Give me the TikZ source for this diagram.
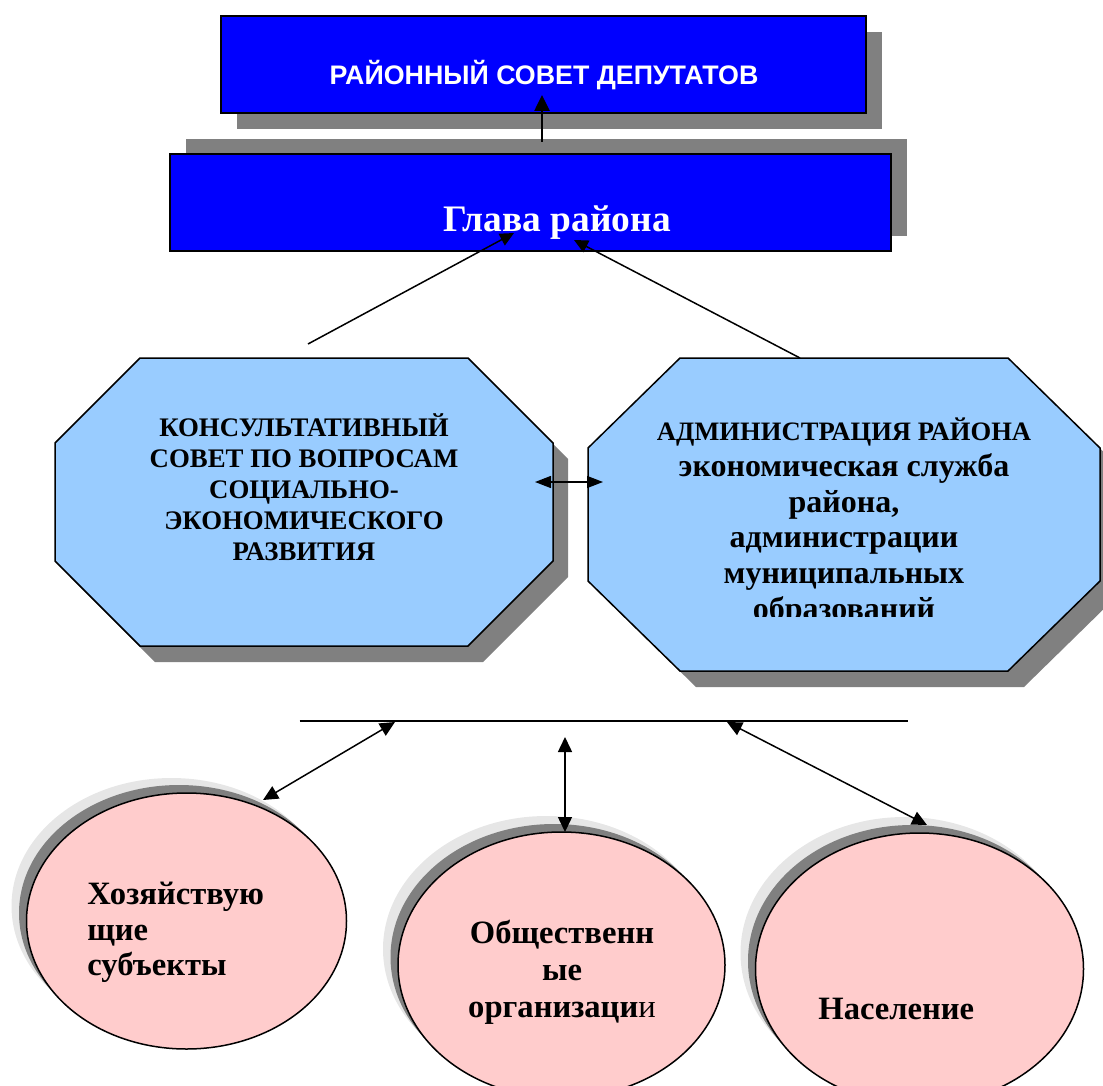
\documentclass[tikz,border=0pt]{standalone}
\usepackage{fontspec}
\setmainfont{Liberation Serif}
\newfontfamily\sansfnt{Liberation Sans}
\usetikzlibrary{shapes.geometric,arrows.meta}
\definecolor{boxblue}{HTML}{0000FF}
\definecolor{octblue}{HTML}{99CCFF}
\definecolor{ovalpink}{HTML}{FFCCCC}
\definecolor{shadowgray}{HTML}{808080}
\definecolor{halogray}{HTML}{E6E6E6}
\newcommand\octpath[6]{(#1+#5,#2) -- (#3-#5,#2) -- (#3,#2+#6) -- (#3,#4-#6) -- (#3-#5,#4) -- (#1+#5,#4) -- (#1,#4-#6) -- (#1,#2+#6) -- cycle}
\tikzset{
  bluebox/.style={draw=black, line width=1pt, fill=boxblue, inner sep=0pt},
  octo/.style={draw=black, line width=0.75pt, fill=octblue},
  pinkoval/.style={ellipse, draw=black, line width=0.75pt, fill=ovalpink, inner sep=0pt},
  txt/.style={inner sep=0pt, text=black},
  conn/.style={line width=0.75pt, -{Triangle[length=7pt,width=6.5pt]}},
  biconn/.style={line width=0.75pt, {Triangle[length=7.5pt,width=7pt]}-{Triangle[length=7.5pt,width=7pt]}},
  sidebi/.style={line width=0.7pt, {Triangle[length=8pt,width=6pt]}-{Triangle[length=8pt,width=6pt]}},
}
\begin{document}
\begin{tikzpicture}[x=0.5pt,y=-0.5pt]
\useasboundingbox (0,0) rectangle (1103,1086);
% ---- top box
\fill[shadowgray] (237,32) rectangle (882,129);
\node[bluebox, minimum width=322.5pt, minimum height=48.5pt] (rsd) at (543.5,64.5) {};
\node[txt, anchor=base, text=white, font=\sansfnt\bfseries\fontsize{13.4}{16}\selectfont] (rsdt) at (544,85) {РАЙОННЫЙ СОВЕТ ДЕПУТАТОВ};
% ---- head of district
\fill[shadowgray] (186,139) rectangle (906.5,236);
\node[bluebox, minimum width=360.25pt, minimum height=48.5pt] (glava) at (530.25,202.5) {};
\node[txt, anchor=base, text=white, font=\bfseries\fontsize{18.7}{22}\selectfont] (glavat) at (557,231) {Глава района};
\coordinate (g1) at (542,142);
\coordinate (r1) at (542,95);
\draw[line width=1.3pt, -{Triangle[length=8pt,width=7.5pt]}] (g1) -- (r1);
% ---- octagons
\fill[shadowgray] \octpath{70}{374}{568}{662}{85}{85};
\draw[octo] \octpath{55}{358}{553}{646}{85}{85};
\fill[shadowgray] \octpath{604}{374}{1116}{687}{92}{90};
\draw[octo] \octpath{588}{358}{1100}{671}{92}{90};
\node[txt, align=center, font=\bfseries\fontsize{13.4}{15.5}\selectfont] (kons) at (304,487)
  {КОНСУЛЬТАТИВНЫЙ\\СОВЕТ ПО ВОПРОСАМ\\СОЦИАЛЬНО-\\ЭКОНОМИЧЕСКОГО\\РАЗВИТИЯ};
\begin{scope}
\clip (580,350) rectangle (1110,616);
\node[txt, align=center, font=\bfseries\fontsize{16}{17.9}\selectfont] (adm) at (844,522)
  {{\fontsize{13.3}{17.9}\selectfont АДМИНИСТРАЦИЯ РАЙОНА}\\экономическая служба\\района,\\администрации\\муниципальных\\образований};
\end{scope}
\coordinate (k1) at (308,344);
\coordinate (gk) at (514,233);
\coordinate (a1) at (800,358);
\coordinate (ga) at (574,240);
\draw[conn] (k1) -- (gk);
\draw[conn] (a1) -- (ga);
\coordinate (kr) at (535,482);
\coordinate (al) at (603,482);
\draw[sidebi] (kr) -- (al);
% ---- ellipses
\fill[halogray] (171.5,906) ellipse [x radius=160, y radius=128];
\fill[shadowgray] (179,913) ellipse [x radius=160, y radius=128];
\node[pinkoval, minimum width=160pt, minimum height=128pt] (hoz) at (186.5,921) {};
\fill[halogray] (546.5,949) ellipse [x radius=163.5, y radius=133];
\fill[shadowgray] (554,957) ellipse [x radius=163.5, y radius=133];
\node[pinkoval, minimum width=163.5pt, minimum height=133pt] (obs) at (561.5,965) {};
\fill[halogray] (904.5,953) ellipse [x radius=164, y radius=136];
\fill[shadowgray] (912,961) ellipse [x radius=164, y radius=136];
\node[pinkoval, minimum width=164pt, minimum height=136pt] (nas) at (919.5,969) {};
\node[txt, anchor=west, align=left, font=\bfseries\fontsize{16.3}{17.75}\selectfont] (hozt) at (87,932.5) {Хозяйствую\\щие\\субъекты};
\node[txt, align=center, font=\bfseries\fontsize{16.3}{18.5}\selectfont] (obst) at (562,972) {Общественн\\ые\\организаци{\mdseries и}};
\node[txt, anchor=west, font=\bfseries\fontsize{16.3}{18.5}\selectfont] (nast) at (818,1009) {Население};
% ---- bus line and arrows
\coordinate (busL) at (299.5,720.5);
\coordinate (busR) at (908,720.5);
\draw[line width=1pt] (busL) -- (busR);
\coordinate (b1) at (395,722);
\coordinate (e1) at (263,800);
\coordinate (b2) at (565,737);
\coordinate (e2) at (565,832);
\coordinate (b3) at (727,722);
\coordinate (e3) at (927,825);
\draw[biconn] (b1) -- (e1);
\draw[biconn] (b2) -- (e2);
\draw[biconn] (b3) -- (e3);
\end{tikzpicture}
\end{document}
